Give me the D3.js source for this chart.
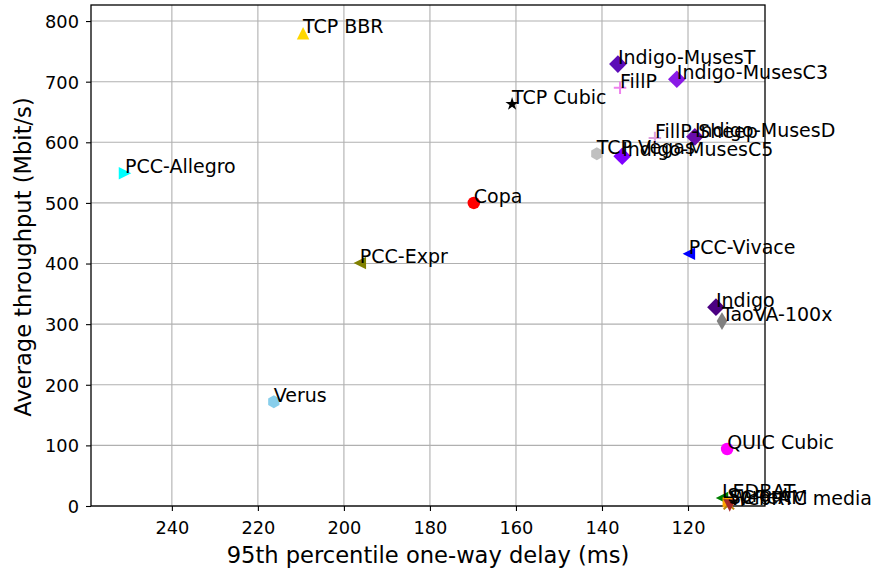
<!DOCTYPE html>
<html>
<head>
<meta charset="utf-8">
<script src="https://cdn.jsdelivr.net/npm/d3@7"></script>
<style>
  html, body { margin: 0; padding: 0; background: #fff; }
  svg { display: block; font-family: "DejaVu Sans", sans-serif; }
</style>
</head>
<body>
<svg id="chart" width="878" height="573"></svg>
<script>
// ---- data ----
const schemes = ["TCP BBR", "PCC-Allegro", "Indigo-MusesT", "Indigo-MusesC3", "FillP", "TCP Cubic",
  "FillP-Sheep", "Indigo-MusesD", "TCP Vegas", "Indigo-MusesC5", "Copa", "PCC-Expr", "PCC-Vivace",
  "Indigo", "TaoVA-100x", "Verus", "QUIC Cubic", "LEDBAT", "Sprout", "SCReAM", "WebRTC media"];
const delays = [209.5, 250.9, 136.3, 122.6, 135.8, 160.9,
  127.7, 118.4, 141.2, 135.3, 169.8, 196.3, 119.8,
  113.5, 112.1, 216.3, 110.9, 112.1, 110.8, 110.5, 110.3];
const throughputs = [780, 549, 729, 704, 690, 663,
  607, 609, 581, 577, 500, 401, 416,
  328, 305, 172, 94, 13, 6, 3, 1];
const xTicks = [240, 220, 200, 180, 160, 140, 120];
const yTicks = [0, 100, 200, 300, 400, 500, 600, 700, 800];

// ---- styles per scheme ----
const markerKinds = ["tri-up", "tri-right", "diamond", "diamond", "plus", "star",
  "plus", "diamond", "hexagon", "diamond", "circle", "tri-left", "tri-left",
  "diamond", "thin-diamond", "hexagon", "circle", "tri-left", "square", "x", "tri-down"];
const markerColors = ["#ffd700", "#00ffff", "#5c0cb8", "#8a1ae6", "#ee82ee", "#000000",
  "#dda0dd", "#6a0dad", "#c0c0c0", "#7f00ff", "#ff0000", "#808000", "#0000ff",
  "#4b0082", "#808080", "#87ceeb", "#ff00ff", "#008000", "#ffa500", "#b8860b", "#a52a2a"];

const W = 878, H = 573;
const margin = { left: 91, top: 5, right: 113, bottom: 67 };
const svg = d3.select("#chart");

const x = d3.scaleLinear().domain([258.8, 102.1]).range([margin.left, W - margin.right]);
const y = d3.scaleLinear().domain([0, 826.5]).range([H - margin.bottom, margin.top]);

// grid
const g = svg.append("g");
g.selectAll("line.gx").data(xTicks).join("line")
  .attr("x1", d => x(d)).attr("x2", d => x(d))
  .attr("y1", margin.top).attr("y2", H - margin.bottom)
  .attr("stroke", "#b0b0b0").attr("stroke-width", 1.1);
g.selectAll("line.gy").data(yTicks).join("line")
  .attr("y1", d => y(d)).attr("y2", d => y(d))
  .attr("x1", margin.left).attr("x2", W - margin.right)
  .attr("stroke", "#b0b0b0").attr("stroke-width", 1.1);

// axes
const xAxis = d3.axisBottom(x).tickValues(xTicks).tickSize(5).tickPadding(6);
const yAxis = d3.axisLeft(y).tickValues(yTicks).tickSize(5).tickPadding(7);
const gx = svg.append("g").attr("transform", `translate(0,${H - margin.bottom})`).call(xAxis);
const gy = svg.append("g").attr("transform", `translate(${margin.left},0)`).call(yAxis);
[gx, gy].forEach(a => {
  a.select(".domain").remove();
  a.selectAll(".tick line").attr("stroke", "#000").attr("stroke-width", 1.1);
  a.selectAll(".tick text").attr("font-family", "DejaVu Sans").attr("font-size", 17.8).attr("fill", "#000");
});
gx.selectAll(".tick text").attr("dy", "0.95em");
gy.selectAll(".tick text").attr("dy", "0.36em");

// frame
svg.append("rect")
  .attr("x", margin.left).attr("y", margin.top)
  .attr("width", W - margin.left - margin.right)
  .attr("height", H - margin.top - margin.bottom)
  .attr("fill", "none").attr("stroke", "#000").attr("stroke-width", 1.3);

// axis labels
svg.append("text")
  .attr("x", 428).attr("y", 563)
  .attr("text-anchor", "middle").attr("font-size", 22.6).attr("fill", "#000")
  .text("95th percentile one-way delay (ms)");
svg.append("text")
  .attr("transform", `translate(31,257) rotate(-90)`)
  .attr("text-anchor", "middle").attr("font-size", 22.6).attr("fill", "#000")
  .text("Average throughput (Mbit/s)");

// custom marker shapes (size = marker width in px)
function polyType(pts) {
  return { draw(ctx, s) { const r = s / 2;
    pts.forEach((p, i) => i ? ctx.lineTo(p[0] * r, p[1] * r) : ctx.moveTo(p[0] * r, p[1] * r));
    ctx.closePath(); } };
}
const hexPts = d3.range(6).map(i => { const a = Math.PI / 2 + i * Math.PI / 3; return [Math.cos(a), -Math.sin(a)]; });
const starPts = d3.range(10).map(i => { const a = Math.PI / 2 + i * Math.PI / 5; const rr = i % 2 ? 0.38 : 1; return [rr * Math.cos(a), -rr * Math.sin(a)]; });
const shapes = {
  "tri-up": polyType([[0, -1], [-1, 1], [1, 1]]),
  "tri-down": polyType([[0, 1], [-1, -1], [1, -1]]),
  "tri-left": polyType([[-1, 0], [1, -1], [1, 1]]),
  "tri-right": polyType([[1, 0], [-1, -1], [-1, 1]]),
  "diamond": polyType([[0, -1.414], [1.414, 0], [0, 1.414], [-1.414, 0]]),
  "thin-diamond": polyType([[0, -1.414], [0.85, 0], [0, 1.414], [-0.85, 0]]),
  "square": polyType([[-0.8, -0.8], [0.8, -0.8], [0.8, 0.8], [-0.8, 0.8]]),
  "hexagon": polyType(hexPts),
  "star": polyType(starPts),
  "circle": { draw(ctx, s) { const r = s / 2; ctx.moveTo(r, 0); ctx.arc(0, 0, r, 0, 2 * Math.PI); } },
  "plus": { draw(ctx, s) { const r = s / 2; ctx.moveTo(-r, 0); ctx.lineTo(r, 0); ctx.moveTo(0, -r); ctx.lineTo(0, r); } },
  "x": { draw(ctx, s) { const r = s / 2.4; ctx.moveTo(-r, -r); ctx.lineTo(r, r); ctx.moveTo(-r, r); ctx.lineTo(r, -r); } }
};
const sizes = { "star": 14, "hexagon": 13, "circle": 12.5 };

const rows = schemes.map((n, i) => ({ name: n, dx: delays[i], ty: throughputs[i], kind: markerKinds[i], color: markerColors[i] }));
const pts = svg.append("g");
rows.forEach(d => {
  const isLine = d.kind === "plus" || d.kind === "x";
  pts.append("path")
    .attr("transform", `translate(${x(d.dx)},${y(d.ty)})`)
    .attr("d", d3.symbol().type(shapes[d.kind]).size(sizes[d.kind] || 12.5)())
    .attr("fill", isLine ? "none" : d.color)
    .attr("stroke", isLine ? d.color : "none")
    .attr("stroke-width", isLine ? 2 : 0);
});
svg.append("g").selectAll("text").data(rows).join("text")
  .attr("x", d => x(d.dx)).attr("y", d => y(d.ty))
  .attr("font-size", 19).attr("fill", "#000")
  .text(d => d.name);
</script>
</body>
</html>
